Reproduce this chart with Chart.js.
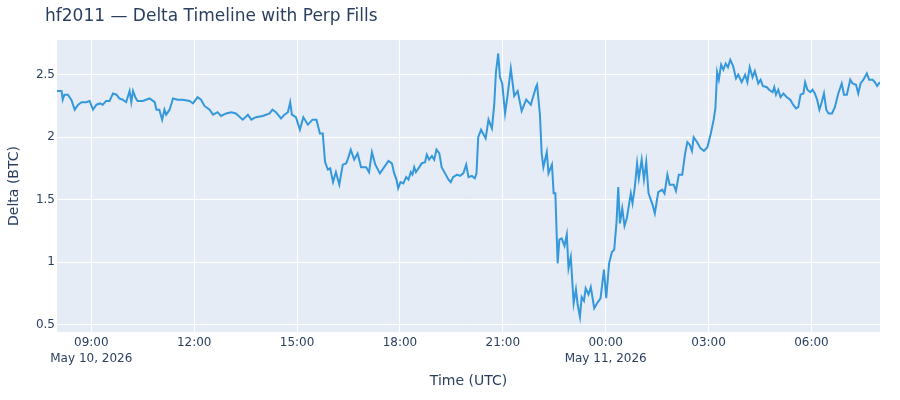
<!DOCTYPE html>
<html>
<head>
<meta charset="utf-8">
<script src="https://cdn.jsdelivr.net/npm/chart.js@4.4.1/dist/chart.umd.min.js"></script>
<style>
  html, body { margin: 0; padding: 0; background: #fff; }
  canvas { display: block; }
</style>
</head>
<body>
<canvas id="delta-chart" width="900" height="400"></canvas>
<script>
// minutes after 2026-05-10 08:00 UTC
const timeMin = [
  0, 8, 10, 13, 19, 25, 31, 37, 43, 51,
  57, 63, 69, 75, 80, 86, 92, 98, 104, 109,
  115, 121, 127, 130, 133, 137, 141, 150, 162, 171,
  174, 179, 184, 188, 191, 197, 203, 211, 220, 232,
  238, 246, 252, 258, 267, 273, 281, 287, 296, 305,
  313, 325, 334, 340, 348, 360, 372, 377, 383, 392,
  398, 404, 408, 411, 418, 425, 431, 439, 447, 454,
  460, 465, 469, 474, 478, 483, 488, 494, 500, 506,
  510, 514, 520, 526, 532, 541, 546, 551, 557,
  565, 580, 586, 590, 594, 597, 601, 606, 611, 615,
  619, 622, 625, 628, 634, 638, 644, 647, 651, 656,
  660, 664, 669, 673, 679, 685, 689, 693, 700, 705,
  711, 716, 720, 726, 731, 734, 737,
  742, 750, 755, 761, 765, 768, 772, 775, 779, 784,
  788, 794, 800, 806, 813, 821, 829, 838, 840, 845,
  848, 851, 857, 860, 866, 869, 872, 874, 876, 879,
  883, 888, 892, 895, 899, 904, 908, 911, 915, 918,
  922, 925, 930, 934, 940, 945, 951, 957, 961, 966,
  971, 975, 979, 982, 985, 989, 993, 997, 1004, 1007,
  1011, 1015, 1018, 1023, 1027, 1031, 1035, 1042, 1046, 1052,
  1059, 1063, 1068, 1072, 1079, 1083, 1088, 1094, 1099, 1103,
  1107, 1111, 1114, 1120, 1126, 1132, 1138, 1144, 1149, 1152,
  1155, 1158, 1162, 1166, 1170, 1174,
  1178, 1183, 1188, 1192, 1198, 1204, 1208, 1212, 1217, 1221,
  1227, 1231, 1235, 1242, 1246, 1252, 1255, 1258, 1262, 1266,
  1271, 1277, 1283, 1288, 1293, 1297, 1301, 1306, 1309, 1313,
  1318, 1322, 1326, 1330, 1334, 1338, 1342, 1346, 1350, 1356,
  1361, 1367, 1373, 1377, 1382, 1388, 1392, 1398, 1402, 1406,
  1411, 1417, 1421, 1427, 1431, 1435, 1440
];

const deltaBtc = [
  2.37, 2.37, 2.30, 2.34, 2.34, 2.30, 2.22, 2.26, 2.28, 2.28,
  2.29, 2.22, 2.26, 2.27, 2.26, 2.29, 2.29, 2.35, 2.34, 2.31,
  2.30, 2.28, 2.37, 2.28, 2.37, 2.32, 2.29, 2.29, 2.31, 2.28,
  2.22, 2.22, 2.14, 2.22, 2.18, 2.22, 2.31, 2.30, 2.30, 2.29,
  2.27, 2.32, 2.30, 2.25, 2.22, 2.18, 2.20, 2.17, 2.19, 2.20,
  2.19, 2.14, 2.18, 2.14, 2.16, 2.17, 2.19, 2.22, 2.20, 2.15,
  2.18, 2.20, 2.28, 2.18, 2.16, 2.06, 2.16, 2.10, 2.14, 2.14,
  2.03, 2.03, 1.80, 1.74, 1.75, 1.64, 1.72, 1.62, 1.78, 1.79,
  1.84, 1.90, 1.82, 1.87, 1.76, 1.76, 1.72, 1.88, 1.78,
  1.71, 1.81, 1.79, 1.71, 1.66, 1.59, 1.64, 1.63, 1.68, 1.66,
  1.72, 1.70, 1.76, 1.72, 1.76, 1.79, 1.80, 1.86, 1.82, 1.85,
  1.82, 1.90, 1.87, 1.76, 1.71, 1.66, 1.64, 1.68, 1.70, 1.69,
  1.71, 1.78, 1.68, 1.69, 1.67, 1.71, 2.00,
  2.06, 1.99, 2.14, 2.07, 2.26, 2.52, 2.67, 2.48, 2.43, 2.19,
  2.32, 2.55, 2.33, 2.37, 2.21, 2.30, 2.26, 2.40, 2.42, 2.18,
  1.87, 1.76, 1.88, 1.71, 1.78, 1.55, 1.55, 1.26, 0.99, 1.18,
  1.19, 1.13, 1.22, 0.95, 1.04, 0.67, 0.78, 0.66, 0.56, 0.72,
  0.69, 0.79, 0.74, 0.80, 0.63, 0.67, 0.71, 0.94, 0.71, 0.99,
  1.08, 1.10, 1.32, 1.60, 1.31, 1.43, 1.29, 1.35, 1.55, 1.47,
  1.60, 1.79, 1.67, 1.82, 1.66, 1.80, 1.55, 1.46, 1.39, 1.56,
  1.58, 1.55, 1.70, 1.62, 1.62, 1.57, 1.70, 1.70, 1.87, 1.96,
  1.94, 1.89, 2.00, 1.96, 1.91, 1.89, 1.92, 2.03, 2.14, 2.23,
  2.52, 2.46, 2.58, 2.54, 2.59, 2.56,
  2.62, 2.57, 2.47, 2.50, 2.44, 2.50, 2.44, 2.56, 2.48, 2.53,
  2.43, 2.46, 2.41, 2.40, 2.38, 2.36, 2.40, 2.34, 2.38, 2.32,
  2.35, 2.32, 2.30, 2.26, 2.23, 2.24, 2.34, 2.35, 2.44, 2.38,
  2.36, 2.38, 2.35, 2.30, 2.22, 2.28, 2.35, 2.22, 2.19, 2.19,
  2.24, 2.35, 2.43, 2.34, 2.34, 2.46, 2.43, 2.42, 2.35, 2.43,
  2.46, 2.51, 2.46, 2.46, 2.44, 2.41, 2.44
];

// x ticks (minutes after 08:00) and their labels
const tickMin = [60, 240, 420, 600, 780, 960, 1140, 1320];
const tickLabels = ['09:00', '12:00', '15:00', '18:00', '21:00', '00:00', '03:00', '06:00'];
const tickDates = ['May 10, 2026', '', '', '', '', 'May 11, 2026', '', ''];

const yTicks = [0.5, 1, 1.5, 2, 2.5];

const TEXT = '#2a3f5f';
const FONT = 'DejaVu Sans';

const plotBg = {
  id: 'plotBg',
  beforeDraw(chart) {
    const { ctx, chartArea: a } = chart;
    ctx.save();
    ctx.fillStyle = '#E5ECF6';
    ctx.fillRect(a.left, a.top, a.right - a.left, a.bottom - a.top);
    ctx.restore();
  },
  afterDraw(chart) {
    const ctx = chart.ctx;
    ctx.save();
    ctx.fillStyle = TEXT;
    ctx.font = '17px "' + FONT + '"';
    ctx.textBaseline = 'alphabetic';
    ctx.textAlign = 'left';
    ctx.fillText('hf2011 \u2014 Delta Timeline with Perp Fills', 45, 20.5);
    ctx.restore();
  }
};

const ctx = document.getElementById('delta-chart').getContext('2d');
new Chart(ctx, {
  type: 'line',
  data: {
    datasets: [{
      data: timeMin.map((t, i) => ({ x: t, y: deltaBtc[i] })),
      borderColor: '#3498db',
      borderWidth: 2,
      pointRadius: 0,
      tension: 0,
      fill: false
    }]
  },
  options: {
    responsive: false,
    animation: false,
    devicePixelRatio: 1,
    layout: { padding: { top: 40, right: 20, left: 0, bottom: 0 } },
    plugins: { legend: { display: false }, tooltip: { enabled: false } },
    scales: {
      x: {
        type: 'linear',
        min: 0,
        max: 1440,
        afterBuildTicks: s => { s.ticks = tickMin.map(v => ({ value: v })); },
        afterFit: s => { s.height = 68; },
        grid: { color: '#ffffff', lineWidth: 1, drawTicks: false },
        border: { display: false },
        ticks: {
          padding: 3,
          color: TEXT,
          maxRotation: 0,
          autoSkip: false,
          font: { family: FONT, size: 12, lineHeight: 1.33 },
          callback: (v, i) => tickDates[i] ? [tickLabels[i], tickDates[i]] : tickLabels[i]
        },
        title: {
          display: true,
          text: 'Time (UTC)',
          color: TEXT,
          font: { family: FONT, size: 14 },
          padding: { top: 0, bottom: 10 }
        }
      },
      y: {
        min: 0.44,
        max: 2.778,
        afterBuildTicks: s => { s.ticks = yTicks.map(v => ({ value: v })); },
        afterFit: s => { s.width = 57; },
        grid: { color: '#ffffff', lineWidth: 1, drawTicks: false },
        border: { display: false },
        ticks: {
          padding: 2,
          color: TEXT,
          font: { family: FONT, size: 12 },
          callback: v => String(v)
        },
        title: {
          display: true,
          text: 'Delta (BTC)',
          color: TEXT,
          font: { family: FONT, size: 14 },
          padding: { top: 6, bottom: 0 }
        }
      }
    }
  },
  plugins: [plotBg]
});
</script>
</body>
</html>
